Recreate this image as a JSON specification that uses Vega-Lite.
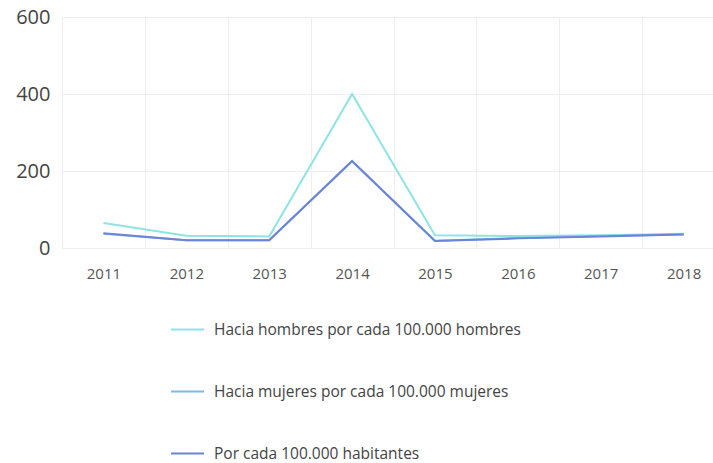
{
  "$schema": "https://vega.github.io/schema/vega-lite/v6.json",
  "width": 663,
  "height": 231,
  "padding": {"left": 5, "top": 7, "right": 0, "bottom": 0},
  "background": "white",
  "config": {
    "view": {"stroke": null},
    "font": "Open Sans"
  },
  "data": {
    "values": [
      {"anio": "2011", "serie": "Hacia hombres por cada 100.000 hombres", "valor": 65},
      {"anio": "2012", "serie": "Hacia hombres por cada 100.000 hombres", "valor": 32},
      {"anio": "2013", "serie": "Hacia hombres por cada 100.000 hombres", "valor": 30},
      {"anio": "2014", "serie": "Hacia hombres por cada 100.000 hombres", "valor": 400},
      {"anio": "2015", "serie": "Hacia hombres por cada 100.000 hombres", "valor": 33},
      {"anio": "2016", "serie": "Hacia hombres por cada 100.000 hombres", "valor": 31},
      {"anio": "2017", "serie": "Hacia hombres por cada 100.000 hombres", "valor": 33},
      {"anio": "2018", "serie": "Hacia hombres por cada 100.000 hombres", "valor": 37},
      {"anio": "2011", "serie": "Hacia mujeres por cada 100.000 mujeres", "valor": 37},
      {"anio": "2012", "serie": "Hacia mujeres por cada 100.000 mujeres", "valor": 20},
      {"anio": "2013", "serie": "Hacia mujeres por cada 100.000 mujeres", "valor": 20},
      {"anio": "2014", "serie": "Hacia mujeres por cada 100.000 mujeres", "valor": 225},
      {"anio": "2015", "serie": "Hacia mujeres por cada 100.000 mujeres", "valor": 19},
      {"anio": "2016", "serie": "Hacia mujeres por cada 100.000 mujeres", "valor": 26},
      {"anio": "2017", "serie": "Hacia mujeres por cada 100.000 mujeres", "valor": 31},
      {"anio": "2018", "serie": "Hacia mujeres por cada 100.000 mujeres", "valor": 36},
      {"anio": "2011", "serie": "Por cada 100.000 habitantes", "valor": 38},
      {"anio": "2012", "serie": "Por cada 100.000 habitantes", "valor": 20},
      {"anio": "2013", "serie": "Por cada 100.000 habitantes", "valor": 20},
      {"anio": "2014", "serie": "Por cada 100.000 habitantes", "valor": 226},
      {"anio": "2015", "serie": "Por cada 100.000 habitantes", "valor": 18},
      {"anio": "2016", "serie": "Por cada 100.000 habitantes", "valor": 25},
      {"anio": "2017", "serie": "Por cada 100.000 habitantes", "valor": 30},
      {"anio": "2018", "serie": "Por cada 100.000 habitantes", "valor": 35}
    ]
  },
  "mark": {"type": "line", "strokeWidth": 2},
  "encoding": {
    "x": {
      "field": "anio",
      "type": "ordinal",
      "scale": {"type": "band", "paddingInner": 0, "paddingOuter": 0},
      "axis": {
        "title": null,
        "labelAngle": 0,
        "labelFontSize": 15,
        "labelColor": "#555555",
        "labelPadding": 18,
        "ticks": false,
        "domain": false,
        "grid": true,
        "tickBand": "extent",
        "gridColor": "#eeeeee",
        "gridWidth": 1
      }
    },
    "y": {
      "field": "valor",
      "type": "quantitative",
      "scale": {"domain": [0, 600]},
      "axis": {
        "title": null,
        "values": [0, 200, 400, 600],
        "labelFontSize": 20,
        "labelColor": "#444444",
        "labelPadding": 12,
        "ticks": false,
        "domain": false,
        "gridColor": "#eeeeee",
        "minExtent": 57,
        "maxExtent": 57
      }
    },
    "color": {
      "field": "serie",
      "type": "nominal",
      "scale": {
        "domain": ["Hacia hombres por cada 100.000 hombres", "Hacia mujeres por cada 100.000 mujeres", "Por cada 100.000 habitantes"],
        "range": ["#8fe3e3", "#7fb8ee", "#6c84d6"]
      },
      "legend": {
        "title": null,
        "orient": "none",
        "direction": "vertical",
        "legendX": 108,
        "legendY": 295,
        "symbolType": "stroke",
        "symbolSize": 1089,
        "symbolStrokeWidth": 2,
        "labelFontSize": 15.5,
        "labelColor": "#444444",
        "labelOffset": 9,
        "rowPadding": 36,
        "labelLimit": 500
      }
    }
  }
}
